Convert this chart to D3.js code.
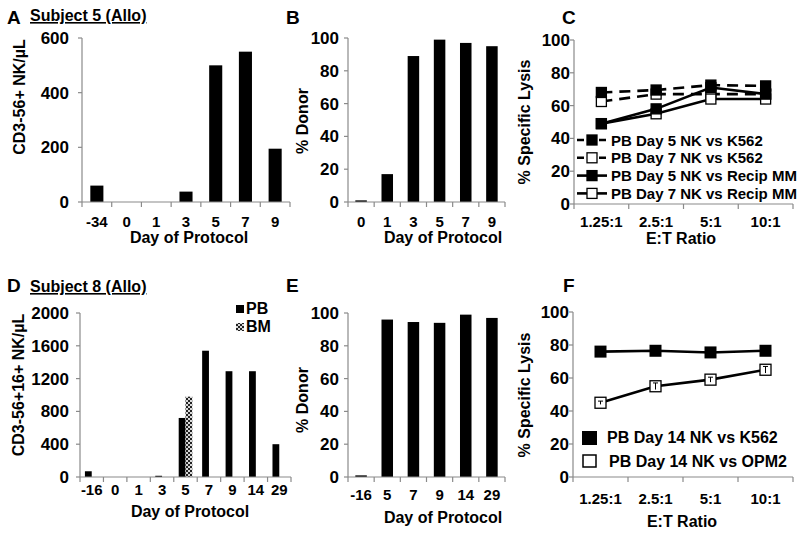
<!DOCTYPE html>
<html><head><meta charset="utf-8">
<script src="https://cdn.jsdelivr.net/npm/d3@7"></script>
<style>
body{margin:0;background:#fff;}
text{font-family:"Liberation Sans",Arial,sans-serif;font-weight:bold;fill:#000;}
</style></head>
<body><svg id="c" width="800" height="535"></svg>
<script>
// ---- data ----
const daysA = ["-34","0","1","3","5","7","9"];
const nkA = [60,0,0,38,500,550,195];
const yTicksA = [0,200,400,600];

const daysB = ["0","1","3","5","7","9"];
const donorB = [1,17,89,99,97,95];
const yTicksPct = [0,20,40,60,80,100];

const etRatios = ["1.25:1","2.5:1","5:1","10:1"];
const c_d5_k562 = [68,69.5,72.5,72];
const c_d7_k562 = [62.5,67,67,67];
const c_d5_mm = [49,58,71,67];
const c_d7_mm = [49,55,64,64];
const cNames = ["PB Day 5 NK vs K562","PB Day 7 NK vs K562","PB Day 5 NK vs Recip MM","PB Day 7 NK vs Recip MM"];

const daysD = ["-16","0","1","3","5","7","9","14","29"];
const pbD = [70,0,0,15,720,1540,1290,1290,400];
const bmD = [null,null,null,null,980,null,null,null,null];
const yTicksD = [0,400,800,1200,1600,2000];

const daysE = ["-16","5","7","9","14","29"];
const donorE = [1,96,94.5,94,99,97];

const f_k562 = [76,76.5,75.5,76.5];
const f_opm2 = [45,55,59,65];
const f_opm2Err = [1,2,1.5,2];
const fNames = ["PB Day 14 NK vs K562","PB Day 14 NK vs OPM2"];

// ---- drawing ----
const svg = d3.select("#c");
const defs = svg.append("defs");
const pat = defs.append("pattern").attr("id","chk").attr("width",4).attr("height",4).attr("patternUnits","userSpaceOnUse");
pat.append("rect").attr("width",4).attr("height",4).attr("fill","#d8d8d8");
pat.append("rect").attr("width",2).attr("height",2).attr("fill","#222");
pat.append("rect").attr("x",2).attr("y",2).attr("width",2).attr("height",2).attr("fill","#222");

const AX = "#8a8a8a";

function axes(g, x, y, ticks, tickBase, gap){
  const [y0,y1] = y.range();
  const xa = x.range()[0];
  g.append("line").attr("x1",xa).attr("x2",xa).attr("y1",y0).attr("y2",y1).attr("stroke",AX).attr("stroke-width",1.2);
  ticks.forEach(t=>{
    g.append("line").attr("x1",xa-4).attr("x2",xa).attr("y1",y(t)).attr("y2",y(t)).attr("stroke",AX).attr("stroke-width",1.2);
    g.append("text").attr("x",xa-gap).attr("y",y(t)+6).attr("text-anchor","end").attr("font-size",17).text(t);
  });
  g.append("line").attr("x1",xa).attr("x2",x.range()[1]).attr("y1",y0).attr("y2",y0).attr("stroke",AX).attr("stroke-width",1.2);
  x.domain().forEach(d=>{
    const xb = x(d);
    g.append("line").attr("x1",xb).attr("x2",xb).attr("y1",y0).attr("y2",y0+5).attr("stroke",AX).attr("stroke-width",1.2);
    g.append("text").attr("x",xb+x.bandwidth()/2).attr("y",tickBase).attr("text-anchor","middle").attr("font-size",15).text(d);
  });
  g.append("line").attr("x1",x.range()[1]).attr("x2",x.range()[1]).attr("y1",y0).attr("y2",y0+5).attr("stroke",AX).attr("stroke-width",1.2);
}
function ytitle(txt,cx,cy){
  svg.append("text").attr("transform",`translate(${cx},${cy}) rotate(-90)`).attr("text-anchor","middle").attr("font-size",16).attr("dy","0.35em").text(txt);
}
function xtitle(txt,cx,by){
  svg.append("text").attr("x",cx).attr("y",by).attr("text-anchor","middle").attr("font-size",16).text(txt);
}
function letter(t,x,y){ svg.append("text").attr("x",x).attr("y",y).attr("font-size",19).text(t); }
function subject(t,x,y){
  svg.append("text").attr("x",x).attr("y",y).attr("font-size",16).attr("text-decoration","underline").text(t);
}

function barPanel(cats, vals, xr, yr, dom, ticks, tickBase, frac, gap){
  const g = svg.append("g");
  const x = d3.scaleBand().domain(cats).range(xr).padding(0);
  const y = d3.scaleLinear().domain(dom).range(yr);
  const w = x.bandwidth()*frac;
  g.selectAll("rect.b").data(cats).join("rect")
    .attr("x",d=>x(d)+x.bandwidth()/2-w/2)
    .attr("y",(d,i)=>y(vals[i]))
    .attr("width",w)
    .attr("height",(d,i)=>y(0)-y(vals[i]))
    .attr("fill","#000");
  axes(g,x,y,ticks,tickBase,gap);
  return {x,y};
}

// Panel A
letter("A",7,24); subject("Subject 5 (Allo)",30,21);
barPanel(daysA,nkA,[82,290],[202,38],[0,600],yTicksA,227,0.44,13);
ytitle("CD3-56+ NK/µL",19,97);
xtitle("Day of Protocol",189,243);

// Panel B
letter("B",286,24);
barPanel(daysB,donorB,[348,505],[202,38],[0,100],yTicksPct,227,0.44,9);
ytitle("% Donor",302,121);
xtitle("Day of Protocol",443,243);

// Panel C
letter("C",562,24);
(function(){
  const g = svg.append("g");
  const x = d3.scaleBand().domain(etRatios).range([574,793]);
  const y = d3.scaleLinear().domain([0,100]).range([204,40]);
  axes(g,x,y,yTicksPct,227,4);
  const series = [
    {v:c_d5_k562,dash:"11,7",fill:"#000"},
    {v:c_d7_k562,dash:"11,7",fill:"#fff"},
    {v:c_d5_mm,dash:null,fill:"#000"},
    {v:c_d7_mm,dash:null,fill:"#fff"}
  ];
  const cx = d=>x(d)+x.bandwidth()/2;
  const line = d3.line().x((d,i)=>cx(etRatios[i])).y(d=>y(d));
  const s = 10;
  [1,3,0,2].forEach(k=>{
    const sr = series[k];
    g.append("path").attr("d",line(sr.v)).attr("fill","none").attr("stroke","#000").attr("stroke-width",2.6).attr("stroke-dasharray",sr.dash);
  });
  [1,3,0,2].forEach(k=>{
    const sr = series[k];
    g.selectAll(null).data(sr.v).join("rect")
      .attr("x",(d,i)=>cx(etRatios[i])-s/2).attr("y",d=>y(d)-s/2).attr("width",s).attr("height",s)
      .attr("fill",sr.fill).attr("stroke","#000").attr("stroke-width",1.3);
  });
  series.forEach((sr,i)=>{
    const ly = 140 + i*17.8;
    g.append("line").attr("x1",577).attr("x2",607).attr("y1",ly).attr("y2",ly).attr("stroke","#000").attr("stroke-width",2.6).attr("stroke-dasharray",sr.dash?"7,4":null);
    g.append("rect").attr("x",592-s/2).attr("y",ly-s/2).attr("width",s).attr("height",s).attr("fill",sr.fill).attr("stroke","#000").attr("stroke-width",1.3);
    g.append("text").attr("x",611).attr("y",ly+5.5).attr("font-size",15).text(cNames[i]);
  });
})();
ytitle("% Specific Lysis",524,122);
xtitle("E:T Ratio",681,244);

// Panel D
letter("D",7,292); subject("Subject 8 (Allo)",30,292);
(function(){
  const g = svg.append("g");
  const x = d3.scaleBand().domain(daysD).range([80,291]);
  const y = d3.scaleLinear().domain([0,2000]).range([477,313]);
  const w = x.bandwidth()*0.29;
  g.selectAll("rect.pb").data(daysD).join("rect")
    .attr("x",d=>x(d)+x.bandwidth()/2-w).attr("y",(d,i)=>y(pbD[i])).attr("width",w)
    .attr("height",(d,i)=>y(0)-y(pbD[i])).attr("fill","#000");
  const bmIdx = daysD.map((d,i)=>i).filter(i=>bmD[i]!=null);
  g.selectAll("rect.bm").data(bmIdx).join("rect")
    .attr("x",i=>x(daysD[i])+x.bandwidth()/2).attr("y",i=>y(bmD[i])).attr("width",w)
    .attr("height",i=>y(0)-y(bmD[i])).attr("fill","url(#chk)");
  axes(g,x,y,yTicksD,495,11);
  g.append("rect").attr("x",236).attr("y",305).attr("width",8).attr("height",8).attr("fill","#000");
  g.append("text").attr("x",246).attr("y",314).attr("font-size",16).text("PB");
  g.append("rect").attr("x",236).attr("y",323).attr("width",8).attr("height",8).attr("fill","url(#chk)");
  g.append("text").attr("x",246).attr("y",332).attr("font-size",16).text("BM");
})();
ytitle("CD3-56+16+ NK/µL",18,385);
xtitle("Day of Protocol",190,517);

// Panel E
letter("E",286,292);
barPanel(daysE,donorE,[348,505],[477,313],[0,100],yTicksPct,500,0.44,9);
ytitle("% Donor",302,400);
xtitle("Day of Protocol",443,523);

// Panel F
letter("F",563,292);
(function(){
  const g = svg.append("g");
  const x = d3.scaleBand().domain(etRatios).range([573,793]);
  const y = d3.scaleLinear().domain([0,100]).range([477,312]);
  axes(g,x,y,yTicksPct,504,4);
  const cx = d=>x(d)+x.bandwidth()/2;
  const line = d3.line().x((d,i)=>cx(etRatios[i])).y(d=>y(d));
  g.append("path").attr("d",line(f_opm2)).attr("fill","none").attr("stroke","#000").attr("stroke-width",2.6);
  g.append("path").attr("d",line(f_k562)).attr("fill","none").attr("stroke","#000").attr("stroke-width",2.6);
  const s1=12, s2=11;
  g.selectAll(null).data(f_opm2).join("rect")
    .attr("x",(d,i)=>cx(etRatios[i])-s2/2).attr("y",d=>y(d)-s2/2).attr("width",s2).attr("height",s2)
    .attr("fill","#fff").attr("stroke","#000").attr("stroke-width",1.3);
  f_opm2.forEach((v,i)=>{
    const xc = cx(etRatios[i]);
    g.append("line").attr("x1",xc).attr("x2",xc).attr("y1",y(v+f_opm2Err[i])).attr("y2",y(v-f_opm2Err[i])).attr("stroke","#000").attr("stroke-width",1);
    g.append("line").attr("x1",xc-2.5).attr("x2",xc+2.5).attr("y1",y(v+f_opm2Err[i])).attr("y2",y(v+f_opm2Err[i])).attr("stroke","#000").attr("stroke-width",1);
  });
  g.selectAll(null).data(f_k562).join("rect")
    .attr("x",(d,i)=>cx(etRatios[i])-s1/2).attr("y",d=>y(d)-s1/2).attr("width",s1).attr("height",s1)
    .attr("fill","#000");
  g.append("rect").attr("x",582).attr("y",431).attr("width",15).attr("height",14).attr("fill","#000");
  g.append("text").attr("x",607).attr("y",443).attr("font-size",16).text(fNames[0]);
  g.append("rect").attr("x",583).attr("y",455).attr("width",13).attr("height",12).attr("fill","#fff").attr("stroke","#000").attr("stroke-width",1.5);
  g.append("text").attr("x",609).attr("y",467).attr("font-size",16).text(fNames[1]);
})();
ytitle("% Specific Lysis",524,395);
xtitle("E:T Ratio",682,527);
</script></body></html>
